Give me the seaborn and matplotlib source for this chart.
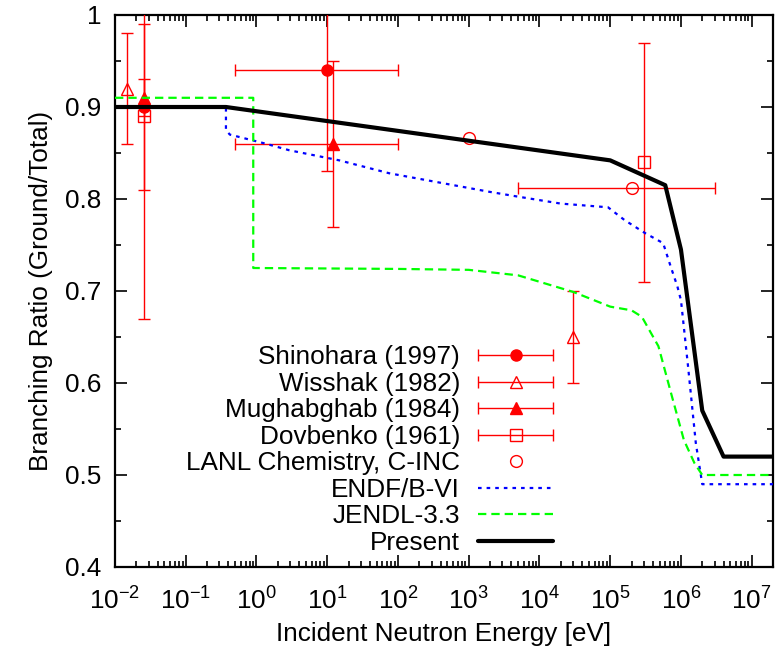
import numpy as np
import matplotlib
matplotlib.use("Agg")
import matplotlib.pyplot as plt
import seaborn as sns
from matplotlib import font_manager
from matplotlib.lines import Line2D
from matplotlib.container import ErrorbarContainer
from matplotlib.legend_handler import HandlerErrorbar
from matplotlib.ticker import LogLocator, MultipleLocator, FuncFormatter, NullFormatter

# ---------------- data ----------------
shinohara_E = [0.0253, 10.0]
shinohara_R = [0.90, 0.94]
shinohara_dR = [0.09, 0.11]
shinohara_Elo = [np.nan, 0.5]
shinohara_Ehi = [np.nan, 100.0]

wisshak_E = [0.015, 3.0e4]
wisshak_R = [0.92, 0.65]
wisshak_dR = [0.06, 0.05]

mughabghab_E = [0.0253, 12.0]
mughabghab_R = [0.91, 0.86]
mughabghab_dR = [0.02, 0.09]
mughabghab_Elo = [np.nan, 0.5]
mughabghab_Ehi = [np.nan, 100.0]

dovbenko_E = [0.0253, 3.0e5]
dovbenko_R = [0.89, 0.84]
dovbenko_dR = [0.22, 0.13]

lanl_E = [1.0e3, 2.0e5]
lanl_R = [0.866, 0.812]
lanl_Elo = [np.nan, 5.0e3]
lanl_Ehi = [np.nan, 3.0e6]

endf_E = [0.01, 0.37, 0.37, 0.42, 1.37, 2.9, 14.8, 75.0, 1.9e3, 4.6e3, 2.0e4,
          9.3e4, 1.6e5, 3.1e5, 5.6e5, 7.2e5, 8.9e5, 1.0e6, 1.26e6, 1.62e6,
          2.0e6, 2.0e7]
endf_R = [0.90, 0.90, 0.875, 0.870, 0.860, 0.853, 0.842, 0.828, 0.808, 0.803,
          0.795, 0.791, 0.777, 0.763, 0.752, 0.726, 0.705, 0.690, 0.618, 0.535,
          0.49, 0.49]

jendl_E = [0.01, 0.9, 0.9, 100.0, 1.0e3, 5.0e3, 3.0e4, 1.0e5, 2.0e5, 2.8e5,
           4.8e5, 7.3e5, 1.1e6, 1.55e6, 2.0e6, 2.0e7]
jendl_R = [0.91, 0.91, 0.725, 0.724, 0.723, 0.717, 0.699, 0.683, 0.679, 0.672,
           0.640, 0.588, 0.538, 0.513, 0.50, 0.50]

present_E = [0.01, 0.37, 1.0e5, 6.0e5, 1.0e6, 2.0e6, 4.0e6, 2.0e7]
present_R = [0.90, 0.90, 0.842, 0.815, 0.745, 0.57, 0.52, 0.52]

labels = ["Shinohara (1997)", "Wisshak (1982)", "Mughabghab (1984)",
          "Dovbenko (1961)", "LANL Chemistry, C-INC", "ENDF/B-VI",
          "JENDL-3.3", "Present"]

# ---------------- style ----------------
sns.set_theme(style="ticks")
names = {f.name for f in font_manager.fontManager.ttflist}
if "Liberation Sans Narrow" in names:
    FONT, FS = "Liberation Sans Narrow", 23
else:
    FONT, FS = "Liberation Sans", 18.8
plt.rcParams["font.family"] = [FONT, "DejaVu Sans"]
plt.rcParams["mathtext.fontset"] = "custom"
plt.rcParams["mathtext.rm"] = FONT
plt.rcParams["mathtext.it"] = FONT
plt.rcParams["mathtext.bf"] = FONT
plt.rcParams["lines.scale_dashes"] = False

RED = "#ff0000"
EW = 1.0
CAP = 4.0

fig = plt.figure(figsize=(7.75, 6.47), dpi=100)
fig.patch.set_facecolor("white")
ax = fig.add_axes([115 / 775, 1 - 567 / 647, 658 / 775, 552 / 647])
ax.set_facecolor("white")
ax.set_xscale("log")


def draw_points(E, R, dR, marker, filled, ms, Elo=None, Ehi=None):
    E = np.asarray(E, float)
    R = np.asarray(R, float)
    mk = dict(marker=marker, linestyle="none", markersize=ms,
              mfc=RED if filled else "none", mec=RED, mew=1.0, color=RED)
    if dR is not None:
        ax.errorbar(E, R, yerr=dR, ecolor=RED, elinewidth=EW, capsize=CAP,
                    capthick=EW, zorder=3, **mk)
    else:
        ax.plot(E, R, zorder=3, **mk)
    if Elo is not None:
        lo = np.asarray(Elo, float)
        hi = np.asarray(Ehi, float)
        m = np.isfinite(lo)
        ax.errorbar(E[m], R[m], xerr=[E[m] - lo[m], hi[m] - E[m]], fmt="none",
                    ecolor=RED, elinewidth=EW, capsize=CAP, capthick=EW, zorder=3)


draw_points(shinohara_E, shinohara_R, shinohara_dR, "o", True, 8,
            shinohara_Elo, shinohara_Ehi)
draw_points(wisshak_E, wisshak_R, wisshak_dR, "^", False, 8.5)
draw_points(mughabghab_E, mughabghab_R, mughabghab_dR, "^", True, 8.5,
            mughabghab_Elo, mughabghab_Ehi)
draw_points(dovbenko_E, dovbenko_R, dovbenko_dR, "s", False, 8.5)
draw_points(lanl_E, lanl_R, None, "o", False, 8.5, lanl_Elo, lanl_Ehi)

sns.lineplot(x=endf_E, y=endf_R, ax=ax, color="#0000ff", linewidth=1.6,
             linestyle=(0, (2.6, 3.6)), estimator=None, sort=False, zorder=4)
line_endf = ax.lines[-1]
sns.lineplot(x=jendl_E, y=jendl_R, ax=ax, color="#00ff00", linewidth=1.6,
             linestyle=(0, (6.0, 3.6)), estimator=None, sort=False, zorder=4)
line_jendl = ax.lines[-1]
sns.lineplot(x=present_E, y=present_R, ax=ax, color="black", linewidth=3.0,
             estimator=None, sort=False, zorder=5)
line_present = ax.lines[-1]

# axes
ax.set_xlim(1e-2, 2e7)
ax.set_ylim(0.4, 1.0)
ax.xaxis.set_major_locator(LogLocator(base=10, numticks=30))
ax.xaxis.set_minor_locator(LogLocator(base=10, subs=np.arange(2, 10), numticks=30))
ax.xaxis.set_minor_formatter(NullFormatter())
ax.yaxis.set_major_locator(MultipleLocator(0.1))
ax.yaxis.set_minor_locator(MultipleLocator(0.05))
ax.yaxis.set_major_formatter(FuncFormatter(lambda v, p: f"{v:g}"))
ax.tick_params(which="both", direction="in", top=True, right=True,
               color="black", width=1.2, labelsize=FS, labelcolor="black")
ax.tick_params(which="major", length=8.5)
ax.tick_params(which="minor", length=4.3)
ax.tick_params(axis="x", which="major", pad=15)
ax.tick_params(axis="y", which="major", pad=10)
for s in ax.spines.values():
    s.set_linewidth(1.6)
    s.set_color("black")
ax.grid(False)

ax.set_xlabel("Incident Neutron Energy [eV]", fontsize=FS, color="black")
ax.set_ylabel("Branching Ratio (Ground/Total)", fontsize=FS, color="black")
ax.yaxis.set_label_coords(-0.094, 0.5)
ax.xaxis.set_label_coords(0.5, -0.099)

# legend proxies
def err_proxy(marker, filled, ms):
    return ax.errorbar([np.nan], [np.nan], xerr=[1.0], fmt=marker, color=RED,
                       ecolor=RED, elinewidth=EW, capsize=CAP, capthick=EW,
                       ms=ms, mfc=RED if filled else "none", mec=RED, mew=1.0)

h1 = err_proxy("o", True, 8)
h2 = err_proxy("^", False, 8.5)
h3 = err_proxy("^", True, 8.5)
h4 = err_proxy("s", False, 8.5)
h5 = Line2D([], [], marker="o", linestyle="none", ms=8.5, mfc="none",
            mec=RED, mew=1.0)
handles = [h1, h2, h3, h4, h5, line_endf, line_jendl, line_present]

old = ax.get_legend()
if old is not None:
    old.remove()
leg = ax.legend(handles, labels, loc="center right",
                bbox_to_anchor=(553 / 775, 1 - 450 / 647),
                bbox_transform=fig.transFigure, frameon=False,
                markerfirst=False, fontsize=FS, numpoints=1,
                handlelength=54 / FS, handletextpad=13 / FS,
                labelspacing=0.095, borderpad=0, borderaxespad=0,
                handler_map={ErrorbarContainer: HandlerErrorbar(xerr_size=27 / FS, numpoints=1)})
for t in leg.get_texts():
    t.set_color("black")

fig.savefig("out.png", dpi=100, facecolor="white")
